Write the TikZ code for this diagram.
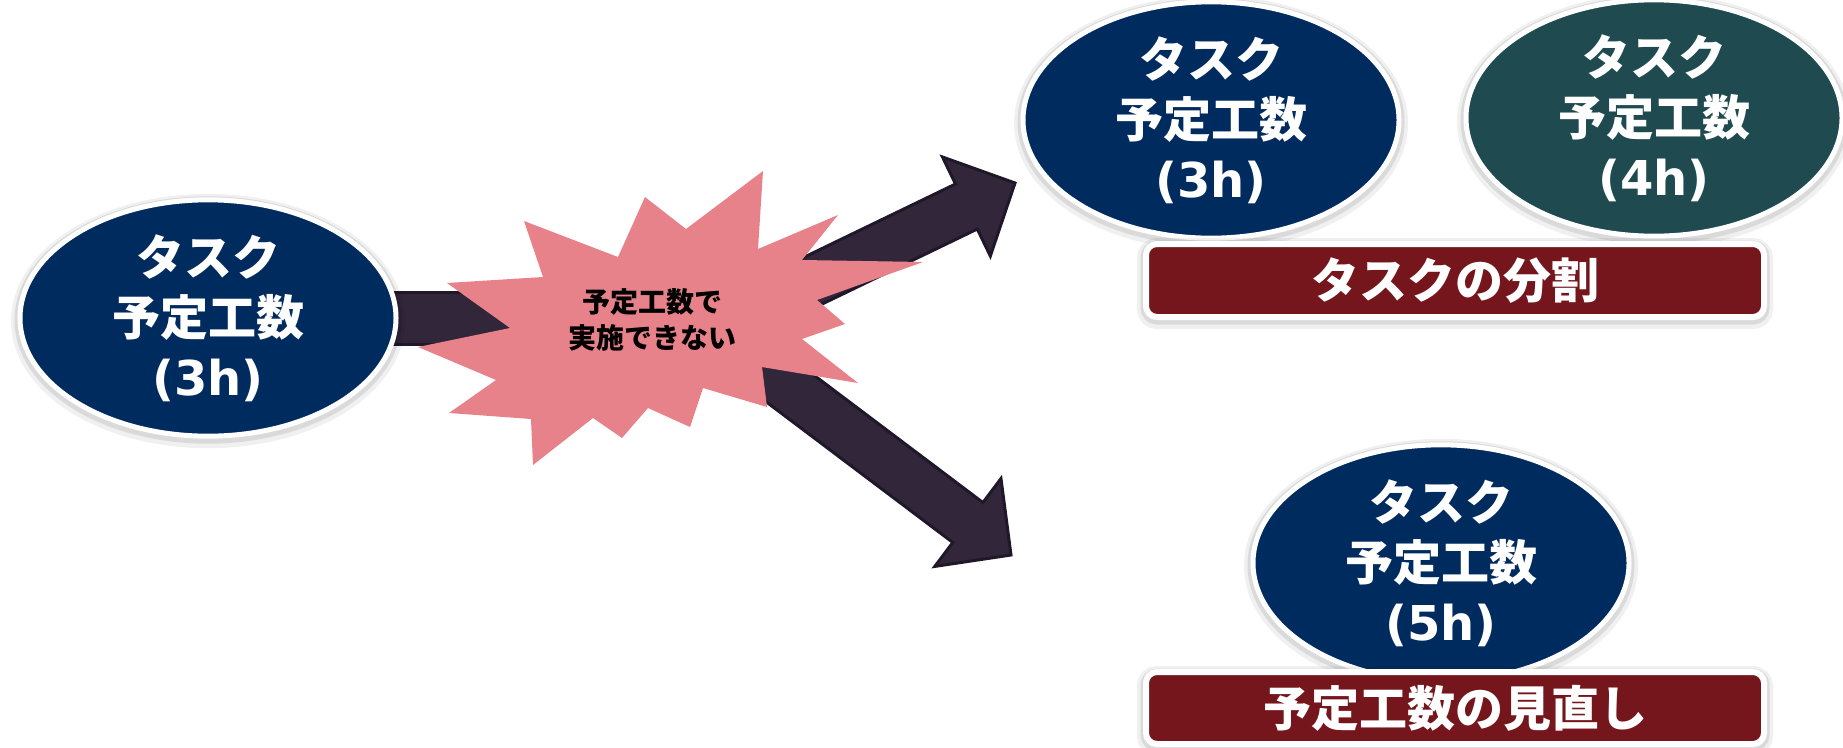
\documentclass[tikz,border=0pt]{standalone}
\usepackage{fontspec}
\newfontfamily\jp{Noto Sans CJK JP}
\newfontfamily\lat{DejaVu Sans}
\usetikzlibrary{shapes.geometric}
\definecolor{tasknavy}{HTML}{002B5F}
\definecolor{taskgreen}{HTML}{1F4A4F}
\definecolor{boxred}{HTML}{74161C}
\definecolor{starpink}{HTML}{E8828A}
\definecolor{arrowfill}{HTML}{32263B}
\definecolor{arrowline}{HTML}{201828}
\tikzset{
  softshadow/.style={
    preaction={draw=black, draw opacity=0.06, line width=18pt, transform canvas={yshift=-3pt}},
    preaction={draw=black, draw opacity=0.09, line width=11pt, transform canvas={yshift=-2pt}}},
  taskell/.style={ellipse, draw=white, line width=5pt, fill=tasknavy,
    minimum width=376pt, minimum height=202pt, inner sep=0pt,
    text=white, align=center,
    font=\jp\bfseries\fontsize{48}{60}\selectfont, softshadow},
  labelbox/.style={rectangle, rounded corners=11pt, draw=white, line width=6pt, fill=boxred,
    minimum width=618pt, minimum height=73pt, inner sep=0pt, text=white,
    font=\jp\bfseries\fontsize{48}{56}\selectfont, softshadow},
  blockarrow/.style={fill=arrowfill, draw=arrowline, line width=3pt, line join=miter},
  startext/.style={align=center, text=black, font=\jp\bfseries\fontsize{28}{36}\selectfont}
}
\begin{document}
\begin{tikzpicture}[x=1pt,y=-1pt]
\useasboundingbox (0,0) rectangle (1843,747);
% left band
\draw[blockarrow] (370,292) rectangle (560,344);
% arrows
\coordinate (tipA) at (1015,183);
\coordinate (tipB) at (1011,555);
\begin{scope}[shift={(tipA)}, rotate=25.8]
  \draw[blockarrow] (0,0) -- (-54,55) -- (-54,25) -- (-354,25) -- (-354,-25) -- (-54,-25) -- (-54,-55) -- cycle;
\end{scope}
\begin{scope}[shift={(tipB)}, rotate=-37]
  \draw[blockarrow] (0,0) -- (-54,55) -- (-54,25) -- (-354,25) -- (-354,-25) -- (-54,-25) -- (-54,-55) -- cycle;
\end{scope}
% ellipses
\node[taskell] (t0) at (208,318) {タスク\\予定工数\\{\lat (3h)}};
\node[taskell] (t1) at (1211,120) {タスク\\予定工数\\{\lat (3h)}};
\node[taskell, fill=taskgreen] (t2) at (1654,118) {タスク\\予定工数\\{\lat (4h)}};
\node[taskell] (t3) at (1441,563) {タスク\\予定工数\\{\lat (5h)}};
% starburst
\fill[starpink] (447,283) -- (543,277) -- (524,221) -- (618,257) -- (645,197) -- (686,229)
  -- (763,171) -- (758,249) -- (838,215) -- (802,260) -- (923,262) -- (817,300)
  -- (845,324) -- (802,339) -- (858,383) -- (762,367) -- (767,407) -- (703,388)
  -- (690,427) -- (648,408) -- (622,438) -- (593,418) -- (533,465) -- (531,419)
  -- (449,413) -- (496,380) -- (418,347) -- (510,328) -- cycle;
\node[startext] (st) at (652,320) {予定工数で\\実施できない};
% label boxes
\node[labelbox] (b1) at (1455,280.5) {タスクの分割};
\node[labelbox, minimum height=72pt] (b2) at (1455,708) {予定工数の見直し};
\end{tikzpicture}
\end{document}
